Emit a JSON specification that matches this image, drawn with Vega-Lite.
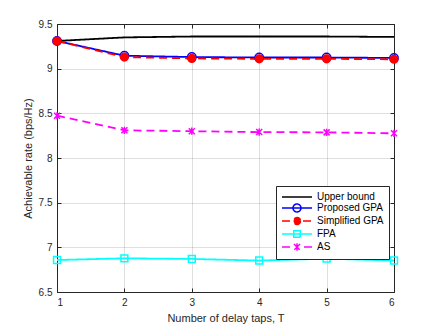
{
  "$schema": "https://vega.github.io/schema/vega-lite/v6.json",
  "width": 337,
  "height": 268,
  "autosize": {"type": "none"},
  "padding": {"left": 57, "top": 24, "right": 42, "bottom": 35},
  "background": "white",
  "config": {
    "font": "Liberation Sans",
    "view": {"stroke": "#262626", "strokeWidth": 1},
    "axis": {
      "domain": false,
      "tickColor": "#262626",
      "labelColor": "#262626",
      "titleColor": "#262626",
      "labelFontSize": 10,
      "titleFontSize": 11,
      "titleFontWeight": "normal",
      "gridColor": "#262626",
      "gridOpacity": 0.15,
      "tickSize": -4
    }
  },
  "resolve": {"axis": {"x": "independent", "y": "independent"}},
  "data": {
    "values": [
      {"series": "Upper bound", "T": 1, "rate": 9.31},
      {"series": "Upper bound", "T": 2, "rate": 9.35},
      {"series": "Upper bound", "T": 3, "rate": 9.36},
      {"series": "Upper bound", "T": 4, "rate": 9.36},
      {"series": "Upper bound", "T": 5, "rate": 9.36},
      {"series": "Upper bound", "T": 6, "rate": 9.355},
      {"series": "Proposed GPA", "T": 1, "rate": 9.31},
      {"series": "Proposed GPA", "T": 2, "rate": 9.145},
      {"series": "Proposed GPA", "T": 3, "rate": 9.13},
      {"series": "Proposed GPA", "T": 4, "rate": 9.125},
      {"series": "Proposed GPA", "T": 5, "rate": 9.125},
      {"series": "Proposed GPA", "T": 6, "rate": 9.12},
      {"series": "Simplified GPA", "T": 1, "rate": 9.31},
      {"series": "Simplified GPA", "T": 2, "rate": 9.13},
      {"series": "Simplified GPA", "T": 3, "rate": 9.115},
      {"series": "Simplified GPA", "T": 4, "rate": 9.11},
      {"series": "Simplified GPA", "T": 5, "rate": 9.11},
      {"series": "Simplified GPA", "T": 6, "rate": 9.105},
      {"series": "FPA", "T": 1, "rate": 6.858},
      {"series": "FPA", "T": 2, "rate": 6.877},
      {"series": "FPA", "T": 3, "rate": 6.87},
      {"series": "FPA", "T": 4, "rate": 6.852},
      {"series": "FPA", "T": 5, "rate": 6.873},
      {"series": "FPA", "T": 6, "rate": 6.852},
      {"series": "AS", "T": 1, "rate": 8.473},
      {"series": "AS", "T": 2, "rate": 8.31},
      {"series": "AS", "T": 3, "rate": 8.3},
      {"series": "AS", "T": 4, "rate": 8.29},
      {"series": "AS", "T": 5, "rate": 8.287},
      {"series": "AS", "T": 6, "rate": 8.276}
    ]
  },
  "layer": [
    {
      "mark": {"type": "line", "strokeWidth": 1.8},
      "encoding": {
        "x": {
          "field": "T", "type": "quantitative",
          "scale": {"domain": [1, 6], "nice": false, "zero": false},
          "axis": {"orient": "bottom", "values": [1, 2, 3, 4, 5, 6], "format": "~g", "title": "Number of delay taps, T", "labelPadding": 9, "titleX": 168.5, "titleY": 26, "titleBaseline": "middle", "titleAlign": "center"}
        },
        "y": {
          "field": "rate", "type": "quantitative",
          "scale": {"domain": [6.5, 9.5], "nice": false, "zero": false},
          "axis": {"orient": "left", "values": [6.5, 7, 7.5, 8, 8.5, 9, 9.5], "format": "~g", "title": "Achievable rate (bps/Hz)", "labelPadding": 9, "titleX": -29, "titleY": 134, "titleBaseline": "middle", "titleAlign": "center", "titleAngle": -90}
        },
        "color": {
          "field": "series", "type": "nominal",
          "scale": {"domain": ["Upper bound", "Proposed GPA", "Simplified GPA", "FPA", "AS"], "range": ["#000000", "#0000ff", "#ff0000", "#00ffff", "#ff00ff"]},
          "legend": {
            "title": null,
            "orient": "none",
            "legendX": 219,
            "legendY": 162,
            "fillColor": "white",
            "strokeColor": "#262626",
            "padding": 5,
            "cornerRadius": 0,
            "labelFontSize": 10,
            "labelColor": "#000000",
            "labelFont": "Liberation Sans",
            "symbolSize": 100,
            "rowPadding": -4,
            "labelOffset": 24,
            "symbolStrokeWidth": 1.5,
            "encode": {
              "symbols": {
                "update": {
                  "shape": {"signal": "datum.value === 'Upper bound' ? 'M-1,0L5,0' : datum.value === 'Proposed GPA' ? 'M-1,0L5,0M2.8,0A0.8,0.8,0,1,1,1.2,0A0.8,0.8,0,1,1,2.8,0' : datum.value === 'Simplified GPA' ? 'M-1,0L0.8,0M3.2,0L5,0M2.7,0A0.7,0.7,0,1,1,1.3,0A0.7,0.7,0,1,1,2.7,0' : datum.value === 'FPA' ? 'M-1,0L5,0M1.35,-0.65L2.65,-0.65L2.65,0.65L1.35,0.65Z' : 'M-1,0L0.6,0M3.4,0L5,0M1.4,-0.6L2.6,0.6M2.6,-0.6L1.4,0.6M2,-0.75L2,0.75'"},
                  "stroke": {"signal": "datum.value === 'Upper bound' ? '#000000' : datum.value === 'Proposed GPA' ? '#0000ff' : datum.value === 'Simplified GPA' ? '#ff0000' : datum.value === 'FPA' ? '#00ffff' : '#ff00ff'"},
                  "fill": {"signal": "datum.value === 'Simplified GPA' ? '#ff0000' : 'transparent'"},
                  "strokeDash": {"value": []},
                  "strokeWidth": {"value": 1.5},
                  "size": {"value": 100},
                  "opacity": {"value": 1}
                }
              }
            }
          }
        },
        "strokeDash": {
          "field": "series", "type": "nominal",
          "scale": {"domain": ["Upper bound", "Proposed GPA", "Simplified GPA", "FPA", "AS"], "range": [[1, 0], [1, 0], [8, 5], [1, 0], [8, 5]]},
          "legend": null
        }
      }
    },
    {
      "transform": [{"filter": "datum.series !== 'Upper bound'"}],
      "mark": {"type": "point", "strokeWidth": 1.5, "opacity": 1},
      "encoding": {
        "x": {
          "field": "T", "type": "quantitative",
          "axis": {"orient": "top", "values": [1, 2, 3, 4, 5, 6], "labels": false, "grid": false, "title": null}
        },
        "y": {
          "field": "rate", "type": "quantitative",
          "axis": {"orient": "right", "values": [6.5, 7, 7.5, 8, 8.5, 9, 9.5], "labels": false, "grid": false, "title": null}
        },
        "stroke": {
          "field": "series", "type": "nominal",
          "scale": {"domain": ["Proposed GPA", "Simplified GPA", "FPA", "AS"], "range": ["#0000ff", "#ff0000", "#00ffff", "#ff00ff"]},
          "legend": null
        },
        "fill": {
          "field": "series", "type": "nominal",
          "scale": {"domain": ["Proposed GPA", "Simplified GPA", "FPA", "AS"], "range": ["transparent", "#ff0000", "transparent", "transparent"]},
          "legend": null
        },
        "shape": {
          "field": "series", "type": "nominal",
          "scale": {"domain": ["Proposed GPA", "Simplified GPA", "FPA", "AS"], "range": ["circle", "circle", "square", "M-1,-1L1,1M1,-1L-1,1M0,-1.2L0,1.2"]},
          "legend": null
        },
        "size": {
          "field": "series", "type": "nominal",
          "scale": {"domain": ["Proposed GPA", "Simplified GPA", "FPA", "AS"], "range": [70, 36, 36, 25]},
          "legend": null
        }
      }
    }
  ]
}
